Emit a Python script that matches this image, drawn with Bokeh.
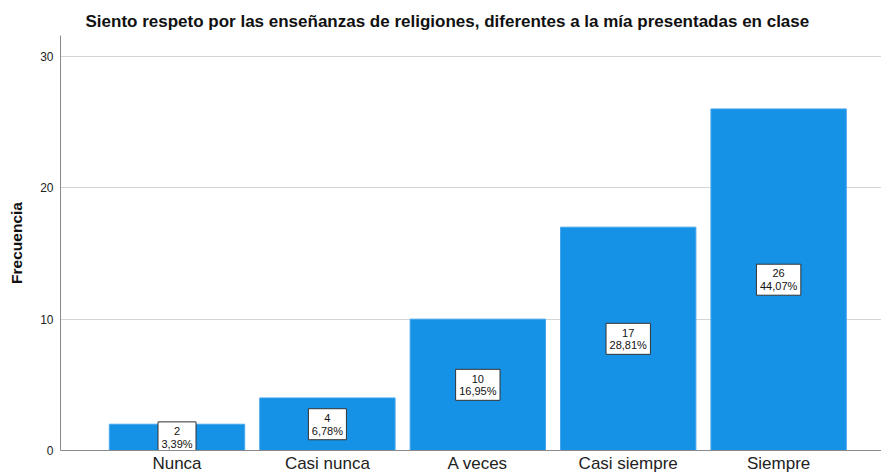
from bokeh.plotting import figure
from bokeh.models import FixedTicker, ColumnDataSource, Range1d
from bokeh.core.properties import value
from bokeh.embed import file_html
from bokeh.resources import INLINE

categories = ["Nunca", "Casi nunca", "A veces", "Casi siempre", "Siempre"]
counts = [2, 4, 10, 17, 26]
percents = ["3,39%", "6,78%", "16,95%", "28,81%", "44,07%"]
y_ticks = [0, 10, 20, 30]

xs = list(range(1, len(categories) + 1))
labels = [f"{c}\n{p}" for c, p in zip(counts, percents)]
mids = [c / 2 for c in counts]
box_w = [6.4 * max(len(str(c)), len(p)) + 6 for c, p in zip(counts, percents)]

src = ColumnDataSource(dict(x=xs, top=counts, mid=mids, label=labels, bw=box_w))

FONT = "Liberation Sans"

p = figure(width=881, height=475, output_backend="svg", toolbar_location=None,
           x_range=Range1d(0.2254, 5.684), y_range=Range1d(0, 31.59),
           min_border_left=60, min_border_right=0, min_border_top=35, min_border_bottom=0)

p.title.text = "Siento respeto por las enseñanzas de religiones, diferentes a la mía presentadas en clase"
p.title.text_font = FONT
p.title.text_font_size = "17px"
p.title.text_font_style = "bold"
p.title.text_color = "#111111"
p.title.align = "left"
p.title.offset = 25
p.title.standoff = 9
p.outline_line_color = None

p.vbar(x="x", top="top", width=0.9, source=src, fill_color="#1591e6",
       line_color="#45a6ee", line_width=1)

p.rect(x="x", y="mid", width="bw", height=31, width_units="screen", height_units="screen",
       source=src, fill_color="white", line_color="#333333", line_width=1)
p.text(x="x", y="mid", text="label", source=src, text_align="center", text_baseline="middle",
       text_font=value(FONT), text_font_size="11px", text_color="#111111", text_line_height=1.05)

p.xaxis.ticker = FixedTicker(ticks=xs)
p.xaxis.major_label_overrides = {x: c for x, c in zip(xs, categories)}
p.xaxis.major_tick_line_color = None
p.xaxis.major_tick_out = 0
p.xaxis.major_tick_in = 0
p.xaxis.minor_tick_line_color = None
p.xaxis.axis_line_color = "#8a8a8a"
p.xaxis.axis_label_standoff = 0
p.xaxis.major_label_text_font = FONT
p.xaxis.major_label_text_font_size = "17px"
p.xaxis.major_label_text_color = "#222222"
p.xaxis.major_label_standoff = 3

p.yaxis.ticker = FixedTicker(ticks=y_ticks)
p.yaxis.axis_line_color = "#8a8a8a"
p.yaxis.major_tick_out = 0
p.yaxis.major_tick_in = 0
p.yaxis.minor_tick_line_color = None
p.yaxis.major_label_text_font = FONT
p.yaxis.major_label_text_font_size = "12px"
p.yaxis.major_label_text_color = "#222222"
p.yaxis.major_label_standoff = 7
p.yaxis.axis_label = "Frecuencia"
p.yaxis.axis_label_text_font = FONT
p.yaxis.axis_label_text_font_size = "15.5px"
p.yaxis.axis_label_text_font_style = "bold"
p.yaxis.axis_label_text_color = "#111111"
p.yaxis.axis_label_standoff = 12

p.xgrid.grid_line_color = None
p.ygrid.grid_line_color = "#d4d4d4"
p.ygrid.ticker = FixedTicker(ticks=y_ticks)

open("out.html", "w").write(file_html(p, INLINE))
